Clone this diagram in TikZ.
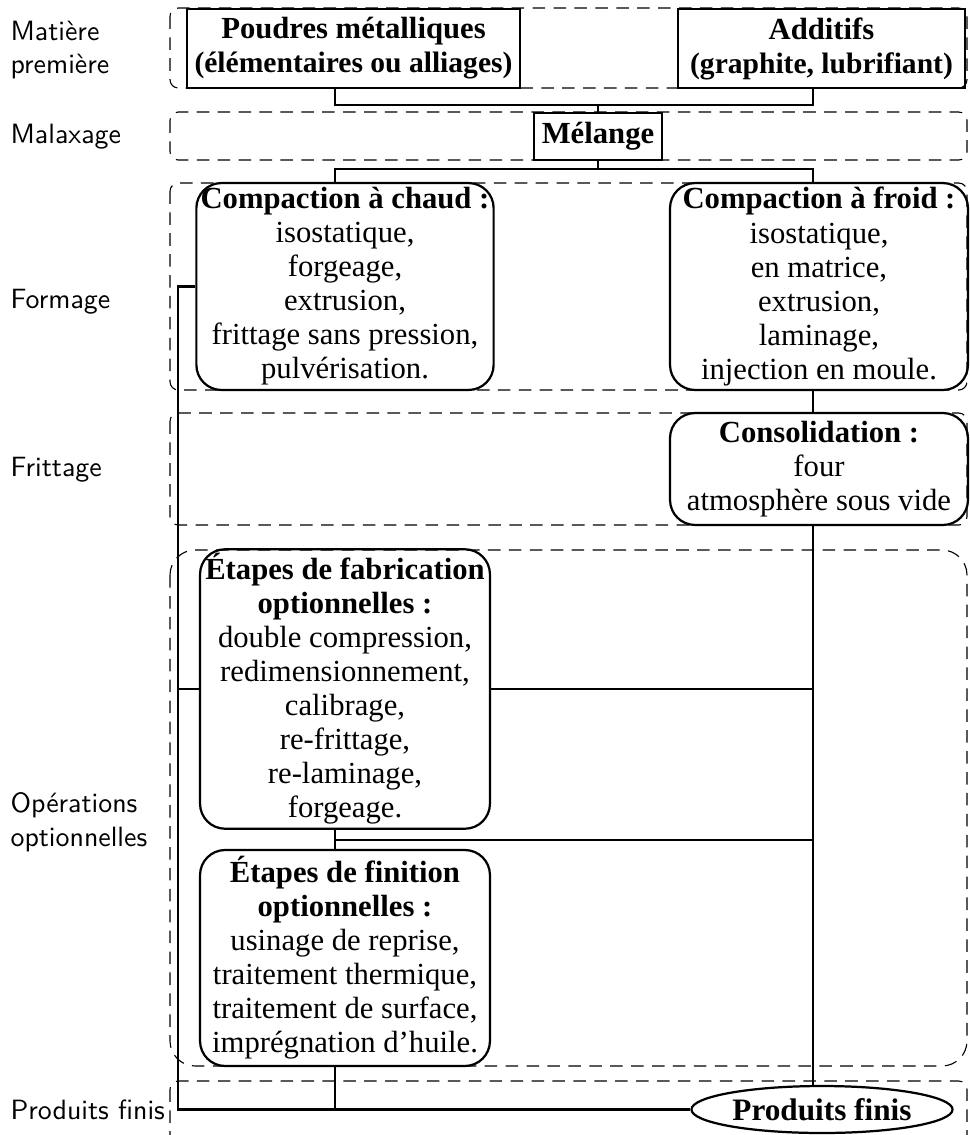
\documentclass[tikz,border=0pt]{standalone}
\usepackage{fontspec}
\setmainfont{Liberation Serif}
\usetikzlibrary{shapes.geometric}

\tikzset{
  band/.style={draw, dash pattern=on 4.5pt off 3pt, rounded corners=3pt},
  stage/.style={draw, thick, align=center, inner sep=1.5pt, font=\fontsize{11}{12.2}\selectfont},
  roundstage/.style={stage, rounded corners=9pt},
  lab/.style={anchor=west, align=left, inner sep=0pt, font=\sffamily\fontsize{10}{12}\selectfont},
  link/.style={thick},
}

\begin{document}
\begin{tikzpicture}[x=0.0126cm, y=-0.0126cm]

    \useasboundingbox (0,0) rectangle (970,1135);

    % bands
    \draw[band] (170,8) rectangle (967,88);
    \draw[band] (170,112) rectangle (967,160);
    \draw[band] (170,183) rectangle (967,390);
    \draw[band] (170,413) rectangle (967,525);
    \draw[band, rounded corners=9pt] (170,550) rectangle (967,1066);
    \draw[band] (170,1081) rectangle (967,1150);

    % stage labels
    \node[lab] (lmat) at (10,50) {Matière\\première};
    \node[lab] (lmal) at (10,137) {Malaxage};
    \node[lab] (lfor) at (10,302) {Formage};
    \node[lab] (lfri) at (10,470) {Frittage};
    \node[lab] (lope) at (10,822) {Opérations\\optionnelles};
    \node[lab] (lpro) at (10,1110) {Produits finis};

    % columns
    \coordinate (L) at (335,0);
    \coordinate (R) at (813,0);
    \coordinate (bus) at (178,0);

    \node[stage, minimum width=4.196cm, minimum height=0.995cm] (poudres) at (353.5,48.5)
        {\textbf{Poudres métalliques}\\\fontsize{10.6}{12.2}\selectfont\textbf{(élémentaires ou alliages)}};
    \node[stage, minimum width=3.616cm, minimum height=0.995cm] (additifs) at (821.5,48.5)
        {\textbf{Additifs}\\\fontsize{10.6}{12.2}\selectfont\textbf{(graphite, lubrifiant)}};

    \node[stage, minimum width=1.613cm, minimum height=0.592cm] (melange) at (598,136.5)
        {\textbf{Mélange}};

    \node[roundstage, minimum width=3.654cm, minimum height=2.608cm] (chaud) at (345,286.5)
        {\textbf{Compaction à chaud :}\\isostatique,\\forgeage,\\extrusion,\\frittage sans pression,\\pulvérisation.};
    \node[roundstage, minimum width=3.755cm, minimum height=2.608cm] (froid) at (819,286.5)
        {\textbf{Compaction à froid :}\\isostatique,\\en matrice,\\extrusion,\\laminage,\\injection en moule.};

    \node[roundstage, minimum width=3.755cm, minimum height=1.411cm] (consol) at (819,469)
        {\textbf{Consolidation :}\\four\\atmosphère sous vide};

    \node[roundstage, minimum width=3.654cm, minimum height=3.503cm] (fab) at (345,689)
        {\textbf{Étapes de fabrication}\\\textbf{optionnelles :}\\double compression,\\redimensionnement,\\calibrage,\\re-frittage,\\re-laminage,\\forgeage.};
    \node[roundstage, minimum width=3.654cm, minimum height=2.722cm] (fin) at (345,958)
        {\textbf{Étapes de finition}\\\textbf{optionnelles :}\\usinage de reprise,\\traitement thermique,\\traitement de surface,\\imprégnation d'huile.};

    \node[draw, thick, ellipse, inner sep=1pt, minimum width=3.024cm, minimum height=0.592cm,
          font=\fontsize{11.2}{12}\selectfont] (pf) at (822,1109.5)
        {\textbf{Produits finis}};

    % connectors
    \draw[link] (poudres.south -| L) -- ++(0,16) coordinate (j1) -| (additifs.south -| R);
    \draw[link] (melange.north) -- (melange.north |- j1);
    \draw[link] (melange.south) -- ++(0,8) coordinate (j2);
    \draw[link] (chaud.north -| L) |- (j2) -| (froid.north -| R);
    \draw[link] (froid.south -| R) -- (consol.north -| R);
    \draw[link] (consol.south -| R) -- (pf.north -| R);

    \draw[link] (chaud.west) -- (chaud.west -| bus) -- (bus |- pf.west) -- (pf.west);
    \draw[link] (fab.west) -- (fab.west -| bus);
    \draw[link] (fab.east) -- (fab.east -| R);
    \draw[link] (fab.south -| L) -- (fin.north -| L);
    \draw[link] (L |- 0,840) -- (R |- 0,840);
    \draw[link] (fin.south -| L) -- (L |- pf.west);

\end{tikzpicture}
\end{document}
